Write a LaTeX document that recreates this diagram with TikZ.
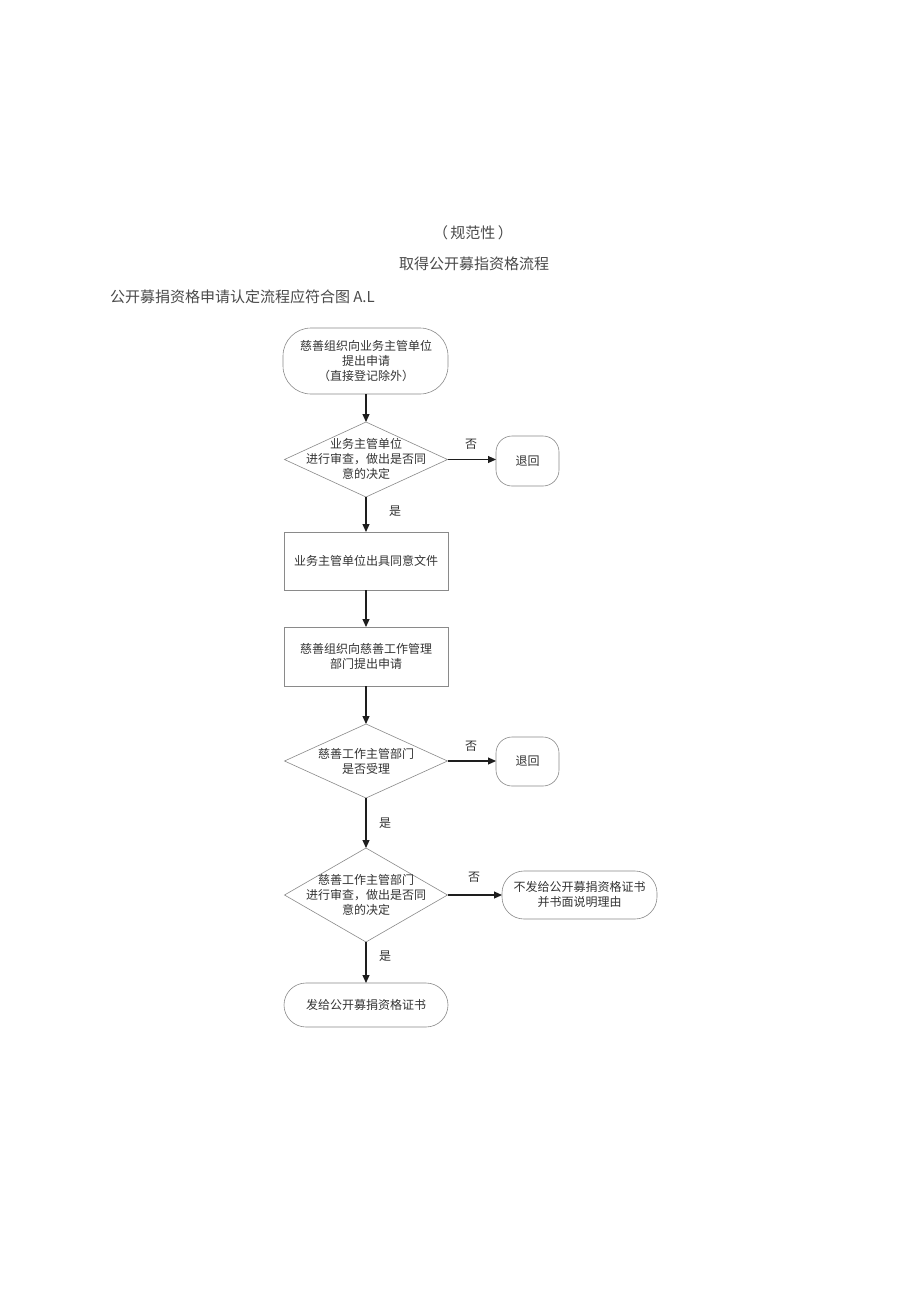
\documentclass[tikz,border=0pt]{standalone}
\usepackage{fontspec}
\setmainfont{Noto Sans CJK SC}
\usetikzlibrary{arrows.meta,shapes.geometric}
\definecolor{hdr}{HTML}{4A4A4A}
\definecolor{txt}{HTML}{333333}
\definecolor{edge}{HTML}{8A8A8A}
\definecolor{arr}{HTML}{1E1E1E}
\begin{document}
\begin{tikzpicture}[x=1pt,y=1pt,
  every node/.style={inner sep=0pt, outer sep=0pt},
  ftext/.style={text=txt, font=\fontsize{12}{15}\selectfont, align=center},
  htext/.style={text=hdr, font=\fontsize{15}{18}\selectfont},
  stad/.style={draw=edge, line width=0.6pt, rounded corners=#1},
  rbox/.style={draw=edge, line width=0.6pt},
  dia/.style={draw=edge, line width=0.6pt, diamond, minimum width=163pt, minimum height=#1},
  flow/.style={draw=arr, line width=1.1pt, -{Triangle[length=8pt,width=7pt]}},
  lbl/.style={text=txt, font=\fontsize{12}{14}\selectfont}
]
\useasboundingbox (0,0) rectangle (920,-1302);
\fill[white] (0,0) rectangle (920,-1302);

% header
\node[htext] (h1) at (473,-233) {（\,规范性\,）};
\node[htext] (h2) at (474,-264) {取得公开募指资格流程};
\node[htext, anchor=west] (h3) at (110,-297) {公开募捐资格申请认定流程应符合图 A.L};

% nodes
\draw[stad=28pt] (283,-328) rectangle (448,-394);
\node[ftext] (n1) at (366,-361) {慈善组织向业务主管单位\\提出申请\\（直接登记除外）};
\coordinate (n1s) at (366,-394);

\node[dia=75pt] (d1) at (366,-459.5) {};
\node[ftext] (d1t) at (366,-459) {业务主管单位\\进行审查，做出是否同\\意的决定};

\node[rbox, rounded corners=16pt, minimum width=63pt, minimum height=50pt] (r1) at (527.5,-461) {};
\node[ftext] (r1t) at (527.5,-461) {退回};

\node[rbox, minimum width=164pt, minimum height=58pt] (b2) at (366,-561) {};
\node[ftext] (b2t) at (366,-561) {业务主管单位出具同意文件};

\node[rbox, minimum width=164pt, minimum height=59pt] (b3) at (366,-656.5) {};
\node[ftext] (b3t) at (366,-656.5) {慈善组织向慈善工作管理\\部门提出申请};

\node[dia=74pt] (d2) at (366,-761) {};
\node[ftext] (d2t) at (366,-761) {慈善工作主管部门\\是否受理};

\node[rbox, rounded corners=16pt, minimum width=63pt, minimum height=49pt] (r2) at (527.5,-761.5) {};
\node[ftext] (r2t) at (527.5,-761.5) {退回};

\node[dia=94pt] (d3) at (366,-895) {};
\node[ftext] (d3t) at (366,-895) {慈善工作主管部门\\进行审查，做出是否同\\意的决定};

\node[rbox, rounded corners=22pt, minimum width=155pt, minimum height=48pt] (r3) at (579.5,-895) {};
\node[ftext] (r3t) at (579.5,-894) {不发给公开募捐资格证书\\并书面说明理由};

\node[rbox, rounded corners=22pt, minimum width=164pt, minimum height=44pt] (n4) at (366,-1005) {};
\node[ftext] (n4t) at (366,-1005) {发给公开募捐资格证书};

% connectors
\draw[flow] (n1s) -- (d1.north);
\draw[flow] (d1.east) -- (r1.west |- d1.east);
\draw[flow] (d1.south) -- (b2.north);
\draw[flow] (b2.south) -- (b3.north);
\draw[flow] (b3.south) -- (d2.north);
\draw[flow] (d2.east) -- (r2.west |- d2.east);
\draw[flow] (d2.south) -- (d3.north);
\draw[flow] (d3.east) -- (r3.west);
\draw[flow] (d3.south) -- (n4.north);

% labels
\node[lbl] (l1) at (471,-444) {否};
\node[lbl] (l2) at (395,-511) {是};
\node[lbl] (l3) at (471,-746) {否};
\node[lbl] (l4) at (385,-823) {是};
\node[lbl] (l5) at (474,-877) {否};
\node[lbl] (l6) at (385,-956) {是};
\end{tikzpicture}
\end{document}
